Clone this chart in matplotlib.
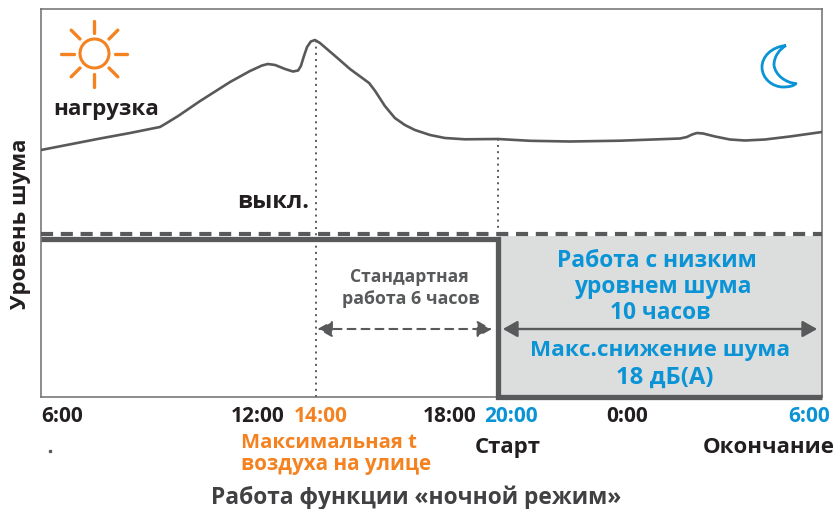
import numpy as np
import matplotlib
matplotlib.use("Agg")
import matplotlib.pyplot as plt
from matplotlib.patches import Circle, PathPatch, FancyArrowPatch
from matplotlib.path import Path

plt.rcParams['font.family'] = ['Open Sans', 'DejaVu Sans']

# --- data (hours after 6:00, noise level in relative units) ---
hour_knots = [0, 8, 14, 24]
load_hours = [0, 1.72, 2.59, 3.46, 3.61, 3.99, 4.63, 5.5, 6.08, 6.43, 6.6, 6.81, 7.1, 7.33, 7.48, 7.56, 7.65, 7.74, 7.85, 7.97,
              8.13, 8.63, 9.12, 9.75, 9.95, 10.27, 10.6, 10.93, 11.26, 11.76, 12.25, 12.91, 14, 14.99, 16.22, 17.77,
              19.62, 19.83, 19.99, 20.14, 20.33, 20.7, 21.16, 21.62, 22.24, 23.01, 24]
noise_level = [247, 258.5, 264, 270, 273, 281, 296, 315, 326, 331.5, 333, 332, 328, 325.5, 326.5, 331, 341, 350, 355.5, 357,
               354, 341, 328, 314, 306, 291, 279, 272, 267, 262, 259, 257.7, 258, 256.2, 255.5, 256.3,
               258.5, 260, 262.5, 264, 263.5, 260.5, 257.5, 256.5, 257.5, 260.5, 265]
standard_level = 161
fan_max_level = 163
tick_hours = [0, 6, 8, 12, 14, 18, 24]

px_axis = [41, 316, 498, 822]
def fwd(h): return np.interp(h, hour_knots, px_axis)
def inv(p): return np.interp(p, px_axis, hour_knots)

DARK = '#58595b'
BLACK = '#231f20'
ORANGE = '#f58220'
BLUE = '#0a94d6'
GRAY = '#dcdddd'

fig = plt.figure(figsize=(8.34, 5.10), dpi=100)
W, H = 834, 510
ax = fig.add_axes([41/W, 1-398/H, (822-41)/W, (398-10)/H])
ax.set_xscale('function', functions=(fwd, inv))
ax.set_xlim(0, 24)
ax.set_ylim(0, 388)
ax.set_xticks([]); ax.set_yticks([])
for s in ax.spines.values():
    s.set_color('#6d6e71'); s.set_linewidth(1.1)

ax.fill_between([14, 24], 0, standard_level, color=GRAY, lw=0, zorder=1)
ax.plot(load_hours, noise_level, color=DARK, lw=1.9, zorder=3, solid_joinstyle='round')
ax.plot([0, 24], [fan_max_level]*2, color=DARK, lw=3.0, dashes=(2.9, 1.85), zorder=4, clip_on=False, dash_capstyle='butt')
ax.plot([0, 14, 14, 24], [standard_level-2.5, standard_level-2.5, 0, 0], color=DARK, lw=3.8, zorder=4,
        solid_joinstyle='miter', solid_capstyle='butt', clip_on=False)
ax.plot([8, 8], [0, 357], color=DARK, lw=1.4, ls=(0, (1, 2.2)), zorder=2)
ax.plot([14, 14], [fan_max_level, 258], color=DARK, lw=1.4, ls=(0, (1, 2.2)), zorder=2)

ax.add_patch(FancyArrowPatch((8.05, 68), (13.8, 68), arrowstyle='<|-|>,head_length=0.8,head_width=0.45', mutation_scale=11,
                             color=DARK, lw=1.5, ls=(0, (3.8, 2.9)), shrinkA=0, shrinkB=0, zorder=5))
ax.add_patch(FancyArrowPatch((14.15, 68), (23.85, 68), arrowstyle='<|-|>,head_length=0.8,head_width=0.45', mutation_scale=11,
                             color=DARK, lw=1.7, shrinkA=0, shrinkB=0, zorder=5))

# overlay in pixel coordinates for icons and text
ov = fig.add_axes([0, 0, 1, 1], facecolor='none')
ov.set_xlim(0, W); ov.set_ylim(H, 0); ov.axis('off')

# sun
ov.add_patch(Circle((94.5, 54.5), 14.5, fill=False, ec=ORANGE, lw=2.2))
for a in np.deg2rad(np.arange(0, 360, 45)):
    ov.plot([94.5+20.5*np.cos(a), 94.5+33*np.cos(a)], [54.5+20.5*np.sin(a), 54.5+33*np.sin(a)],
            color=ORANGE, lw=2.4, solid_capstyle='round')

# moon
mv = [(786, 46.5), (771, 48), (762, 58), (762, 68), (762, 80), (773, 88), (783, 88),
      (789, 88), (794, 87), (796, 84.5), (786, 84), (775, 76), (774, 66), (774, 57), (780, 50), (786, 46.5)]
mc = [Path.MOVETO] + [Path.CURVE4]*15
ov.add_patch(PathPatch(Path(mv, mc), fill=False, ec=BLUE, lw=2.0, joinstyle='round'))

def T(x, y, s, size, color=BLACK, ha='center', **kw):
    ov.text(x, y + 1.8, s, fontsize=size, color=color, ha=ha, va='center', fontweight='bold', **kw)

T(53, 108, 'нагрузка', 16.1, ha='left')
T(237, 200, 'выкл.', 17, ha='left')
T(21, 222, 'Уровень шума', 16, rotation=90)
T(409, 275, 'Стандартная', 12.6, color=DARK)
T(411, 297, 'работа 6 часов', 12.8, color=DARK)
T(657, 259, 'Работа с низким', 16.4, color=BLUE)
T(663, 285, 'уровнем шума', 16.4, color=BLUE)
T(660, 311, '10 часов', 16.3, color=BLUE)
T(660, 349, 'Макс.снижение шума', 16.2, color=BLUE)
T(665, 376, '18 дБ(А)', 17.2, color=BLUE)

tick_x = [62, 257.5, 320.5, 450, 511, 627, 809]
tick_lab = ['6:00', '12:00', '14:00', '18:00', '20:00', '0:00', '6:00']
tick_col = [BLACK, BLACK, ORANGE, BLACK, BLUE, BLACK, BLUE]
for x, lab, c in zip(tick_x, tick_lab, tick_col):
    T(x, 415, lab, 15, color=c)

T(241, 441, 'Максимальная t', 14.6, color=ORANGE, ha='left')
T(241, 463, 'воздуха на улице', 14.9, color=ORANGE, ha='left')
T(507.5, 446, 'Старт', 16)
T(768.5, 446, 'Окончание', 16)
T(416.5, 496, 'Работа функции «ночной режим»', 16.4, color='#414042')
ov.plot([50.5], [451.5], 's', color=DARK, ms=1.4)

fig.savefig('out.png', dpi=100)
